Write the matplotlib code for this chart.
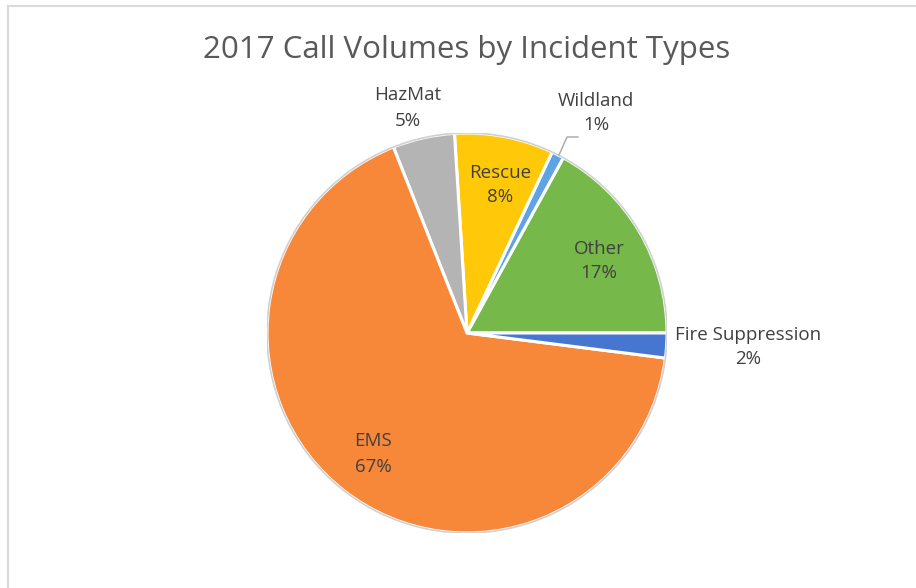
import matplotlib
matplotlib.use("Agg")
import matplotlib.pyplot as plt
from matplotlib.patches import Circle

# data (counter-clockwise from 3 o'clock)
categories = ["Other", "Wildland", "Rescue", "HazMat", "EMS", "Fire Suppression"]
shares = [17, 1, 8, 5, 67, 2]
colors = ["#77B84A", "#5EA3E4", "#FFC90A", "#B4B4B4", "#F7883A", "#4676D0"]

# label centres in pie units (radius = 1)
label_pos = {
    "Other": (0.66, 0.36),
    "Wildland": (0.645, 1.10),
    "Rescue": (0.165, 0.74),
    "HazMat": (-0.295, 1.125),
    "EMS": (-0.47, -0.605),
    "Fire Suppression": (1.405, -0.07),
}

plt.rcParams['font.family'] = ['Open Sans', 'DejaVu Sans']

fig = plt.figure(figsize=(9.16, 5.88), dpi=100)
fig.patch.set_facecolor("white")

# chart-area border (only top and left are visible in the crop)
fig.add_artist(plt.Line2D([8 / 916, 8 / 916], [0, 1 - 6 / 588], color="#D9D9D9", lw=1.5))
fig.add_artist(plt.Line2D([8 / 916, 1], [1 - 6 / 588, 1 - 6 / 588], color="#D9D9D9", lw=1.5))

fig.text(467 / 916, 1 - 50 / 588, "2017 Call Volumes by Incident Types",
         ha="center", va="center", fontsize=22.5, color="#595959")

ax = fig.add_axes([267 / 916, 55 / 588, 400 / 916, 400 / 588])
wedges, _ = ax.pie(shares, colors=colors, startangle=0, counterclock=True,
                   radius=1.0, wedgeprops=dict(edgecolor="white", linewidth=2.2))
ax.add_patch(Circle((0, 0), 1.0, fill=False, edgecolor="#D0D0D0", lw=1.2))

for name, val in zip(categories, shares):
    x, y = label_pos[name]
    ax.text(x, y, f"{name}\n{val}%", ha="center", va="center",
            fontsize=13.5, color="#404040", linespacing=1.5)

# leader line for Wildland
ax.plot([0.555, 0.50, 0.46], [0.98, 0.98, 0.89], color="#A6A6A6", lw=1)

ax.set_xlim(-1, 1)
ax.set_ylim(-1, 1)
ax.set_aspect("equal")
ax.axis("off")

fig.savefig("out.png", dpi=100, facecolor="white")
